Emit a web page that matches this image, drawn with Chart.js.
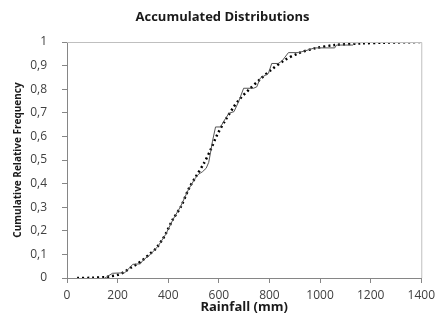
<!DOCTYPE html>
<html>
<head>
<meta charset="utf-8">
<script src="https://cdn.jsdelivr.net/npm/chart.js@4"></script>
<style>
  html, body { margin: 0; padding: 0; background: #fff; }
  #wrap { width: 440px; height: 322px; }
</style>
</head>
<body>
<div id="wrap"><canvas id="c" width="440" height="322"></canvas></div>
<script>
// Empirical cumulative distribution of observed rainfall
const observedRain = [150, 180, 228, 240, 260, 290, 300, 330, 360, 390, 420, 450, 480, 505, 520, 535, 550, 560, 567, 575, 587, 607, 620, 640, 660, 678, 698, 737, 750, 763, 796, 809, 835, 850, 875, 914, 940, 979, 1058, 1065, 1130, 1140, 1250];
const observedFreq = [0, 0.02, 0.022, 0.035, 0.058, 0.06, 0.075, 0.1, 0.135, 0.185, 0.25, 0.305, 0.375, 0.42, 0.44, 0.45, 0.465, 0.49, 0.53, 0.58, 0.64, 0.64, 0.665, 0.698, 0.705, 0.747, 0.804, 0.804, 0.81, 0.846, 0.867, 0.909, 0.909, 0.92, 0.955, 0.955, 0.962, 0.975, 0.975, 0.987, 0.987, 0.997, 1.0];

// Fitted theoretical cumulative distribution
const fittedRain = [40, 100, 150, 175, 200, 225, 254, 275, 299, 325, 352, 375, 391, 417, 450, 482, 509, 541, 567, 593, 626, 659, 678, 691, 718, 763, 809, 861, 914, 979, 1058, 1162, 1250, 1400];
const fittedFreq = [0, 0.001, 0.004, 0.008, 0.013, 0.025, 0.045, 0.058, 0.076, 0.1, 0.126, 0.16, 0.189, 0.246, 0.302, 0.38, 0.429, 0.486, 0.542, 0.606, 0.669, 0.725, 0.752, 0.768, 0.797, 0.842, 0.884, 0.924, 0.952, 0.973, 0.987, 0.994, 0.997, 1.0];

const xTicks = [0, 200, 400, 600, 800, 1000, 1200, 1400];
const yTickLabels = ['0', '0,1', '0,2', '0,3', '0,4', '0,5', '0,6', '0,7', '0,8', '0,9', '1'];

const toPoints = (xs, ys) => xs.map((x, i) => ({ x: x, y: ys[i] }));

// Light frame along the top and right of the plot area; title centred on the canvas
const plotFrame = {
  id: 'plotFrame',
  afterLayout(chart) {
    if (chart.titleBlock) {
      chart.titleBlock.left = 5;
      chart.titleBlock.right = chart.width;
    }
  },
  afterDraw(chart) {
    const a = chart.chartArea, ctx = chart.ctx;
    ctx.save();
    ctx.strokeStyle = '#bfbfbf';
    ctx.lineWidth = 1;
    ctx.beginPath();
    ctx.moveTo(a.left, a.top + 0.5);
    ctx.lineTo(a.right + 0.5, a.top + 0.5);
    ctx.lineTo(a.right + 0.5, a.bottom);
    ctx.stroke();
    ctx.restore();
  }
};

const tickFont = { family: 'Open Sans', size: 12 };
const headFont = { family: 'Open Sans', size: 13, weight: 'bold' };
const sideFont = { family: 'Open Sans', size: 10, weight: 'bold' };

new Chart(document.getElementById('c'), {
  type: 'line',
  data: {
    datasets: [
      {
        label: 'Observed',
        data: toPoints(observedRain, observedFreq),
        borderColor: '#555555',
        borderWidth: 1,
        pointRadius: 0,
        tension: 0,
        fill: false
      },
      {
        label: 'Fitted',
        data: toPoints(fittedRain, fittedFreq),
        borderColor: '#000000',
        borderWidth: 2.5,
        borderDash: [2, 3],
        pointRadius: 0,
        tension: 0.3,
        fill: false
      }
    ]
  },
  plugins: [plotFrame],
  options: {
    responsive: false,
    animation: false,
    layout: { padding: { left: 0, right: 16, top: 0, bottom: 7 } },
    plugins: {
      legend: { display: false },
      tooltip: { enabled: false },
      title: {
        display: true,
        text: 'Accumulated Distributions',
        color: '#1a1a1a',
        font: headFont,
        padding: { top: 9, bottom: 17.4 }
      }
    },
    scales: {
      x: {
        type: 'linear',
        min: 0,
        max: 1400,
        afterBuildTicks(scale) { scale.ticks = xTicks.map(v => ({ value: v })); },
        afterFit(scale) { scale.height = 37; },
        ticks: { color: '#404040', font: tickFont, padding: 5, maxRotation: 0, callback: v => String(v) },
        grid: { drawOnChartArea: false, drawTicks: true, tickLength: 5, color: '#868686' },
        border: { color: '#868686' },
        title: {
          display: true,
          text: 'Rainfall (mm)',
          color: '#1a1a1a',
          font: headFont,
          padding: { top: 0, bottom: 0 }
        }
      },
      y: {
        type: 'linear',
        min: 0,
        max: 1,
        afterBuildTicks(scale) { scale.ticks = yTickLabels.map((t, i) => ({ value: i / 10 })); },
        afterFit(scale) { scale.width = 67; },
        ticks: {
          color: '#404040',
          font: tickFont,
          padding: 15,
          callback: (v, i) => yTickLabels[i]
        },
        grid: { drawOnChartArea: false, drawTicks: true, tickLength: 5, color: '#868686' },
        border: { color: '#868686' },
        title: {
          display: true,
          text: 'Cumulative Relative Frequency',
          color: '#1a1a1a',
          font: sideFont,
          padding: { top: 12, bottom: 0 }
        }
      }
    }
  }
});
</script>
</body>
</html>
